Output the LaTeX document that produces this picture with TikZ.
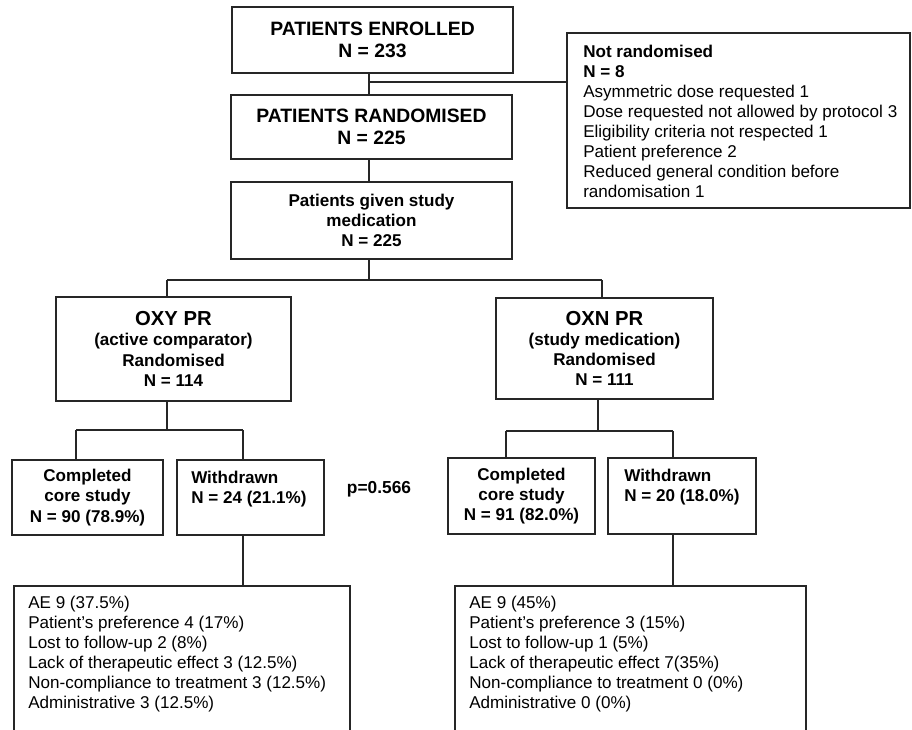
\documentclass[tikz,border=0pt]{standalone}
\usepackage{fontspec}
\setmainfont{Liberation Sans}
\usetikzlibrary{positioning}

\tikzset{
  box/.style={draw=black!85, line width=0.8pt, rectangle, inner sep=0pt, align=center},
  conn/.style={draw=black!85, line width=0.8pt},
  head/.style={font=\bfseries\fontsize{14.5}{17}\selectfont},
  sub/.style={font=\bfseries\fontsize{12.8}{15.2}\selectfont},
  plain/.style={font=\fontsize{12.8}{15}\selectfont, align=left, inner sep=0pt},
}

\begin{document}
\begin{tikzpicture}[x=0.75pt,y=-0.75pt]
			\useasboundingbox (0,0) rectangle (912,729);
			\clip (0,0) rectangle (912,729);

			\node[box, head, minimum width=210.75pt, minimum height=49.5pt] (enrolled) at (372.5,40) {PATIENTS ENROLLED\\N = 233};
			\node[box, head, minimum width=210.75pt, minimum height=48pt] (randomised) at (371.5,127) {PATIENTS RANDOMISED\\N = 225};
			\node[box, sub, minimum width=210.75pt, minimum height=57.75pt] (given) at (371.5,220.5) {Patients given study\\medication\\N = 225};
			\node[box, minimum width=257.25pt, minimum height=131.25pt] (notrand) at (738.5,120.5) {};
			\node[plain, anchor=north west] (notrandtext) at (583,45) {\textbf{Not randomised}\\\textbf{N = 8}\\Asymmetric dose requested 1\\Dose requested not allowed by protocol 3\\Eligibility criteria not respected 1\\Patient preference 2\\Reduced general condition before\\randomisation 1};

			\node[box, sub, minimum width=176.25pt, minimum height=78pt] (oxy) at (173.5,349) {{\fontsize{15.2}{17}\selectfont OXY PR}\\(active comparator)\\Randomised\\N = 114};
			\node[box, sub, minimum width=162.75pt, minimum height=75.75pt] (oxn) at (604.5,348.5) {{\fontsize{15.2}{17}\selectfont OXN PR}\\(study medication)\\Randomised\\N = 111};

			\node[box, sub, minimum width=113.25pt, minimum height=56.25pt] (oxycomp) at (87.5,497.5) {Completed\\core study\\N = 90 (78.9\%)};
			\node[box, minimum width=110.25pt, minimum height=56.25pt] (oxywd) at (250.5,497.5) {};
			\node[plain, font=\bfseries\fontsize{12.8}{15.2}\selectfont, anchor=north west] (oxywdtext) at (191,471) {Withdrawn\\N = 24 (21.1\%)};
			\node[sub, font=\bfseries\fontsize{13}{15}\selectfont] (pvalue) at (379,489) {p=0.566};
			\node[box, sub, minimum width=110.25pt, minimum height=57pt] (oxncomp) at (521.5,496) {Completed\\core study\\N = 91 (82.0\%)};
			\node[box, minimum width=111pt, minimum height=57pt] (oxnwd) at (682,496) {};
			\node[plain, font=\bfseries\fontsize{12.8}{15.2}\selectfont, anchor=north west] (oxnwdtext) at (624,469) {Withdrawn\\N = 20 (18.0\%)};

			\node[box, minimum width=252pt, minimum height=130.5pt] (oxylist) at (182,673) {};
			\node[plain, anchor=north west] (oxylisttext) at (28,596) {AE 9 (37.5\%)\\Patient's preference 4 (17\%)\\Lost to follow-up 2 (8\%)\\Lack of therapeutic effect 3 (12.5\%)\\Non-compliance to treatment 3 (12.5\%)\\Administrative 3 (12.5\%)};
			\node[box, minimum width=263.25pt, minimum height=130.5pt] (oxnlist) at (630.5,673) {};
			\node[plain, anchor=north west] (oxnlisttext) at (469,596) {AE 9 (45\%)\\Patient's preference 3 (15\%)\\Lost to follow-up 1 (5\%)\\Lack of therapeutic effect 7(35\%)\\Non-compliance to treatment 0 (0\%)\\Administrative 0 (0\%)};

			\coordinate (excl) at (369,82);
			\coordinate (armL) at (167,280);
			\coordinate (armR) at (602,280);
			\coordinate (oxyL) at (76,430);
			\coordinate (oxyR) at (243,430);
			\coordinate (oxnL) at (506,431);
			\coordinate (oxnR) at (673,431);

			\draw[conn] (enrolled.south -| excl) -- (randomised.north -| excl);
			\draw[conn] (excl) -- (notrand.west |- excl);
			\draw[conn] (randomised.south -| excl) -- (given.north -| excl);
			\draw[conn] (given.south -| excl) -- (excl |- armL);
			\draw[conn] (armL) -- (armR);
			\draw[conn] (armL) -- (armL |- oxy.north);
			\draw[conn] (armR) -- (armR |- oxn.north);
			\draw[conn] (oxy.south -| armL) -- (armL |- oxyL);
			\draw[conn] (oxyL) -- (oxyR);
			\draw[conn] (oxyL) -- (oxyL |- oxycomp.north);
			\draw[conn] (oxyR) -- (oxyR |- oxywd.north);
			\draw[conn] (oxywd.south -| oxyR) -- (oxyR |- oxylist.north);
			\draw[conn] (oxn.south -| 598,0) -- (598,431);
			\draw[conn] (oxnL) -- (oxnR);
			\draw[conn] (oxnL) -- (oxnL |- oxncomp.north);
			\draw[conn] (oxnR) -- (oxnR |- oxnwd.north);
			\draw[conn] (oxnwd.south -| oxnR) -- (oxnR |- oxnlist.north);
		\end{tikzpicture}
\end{document}
